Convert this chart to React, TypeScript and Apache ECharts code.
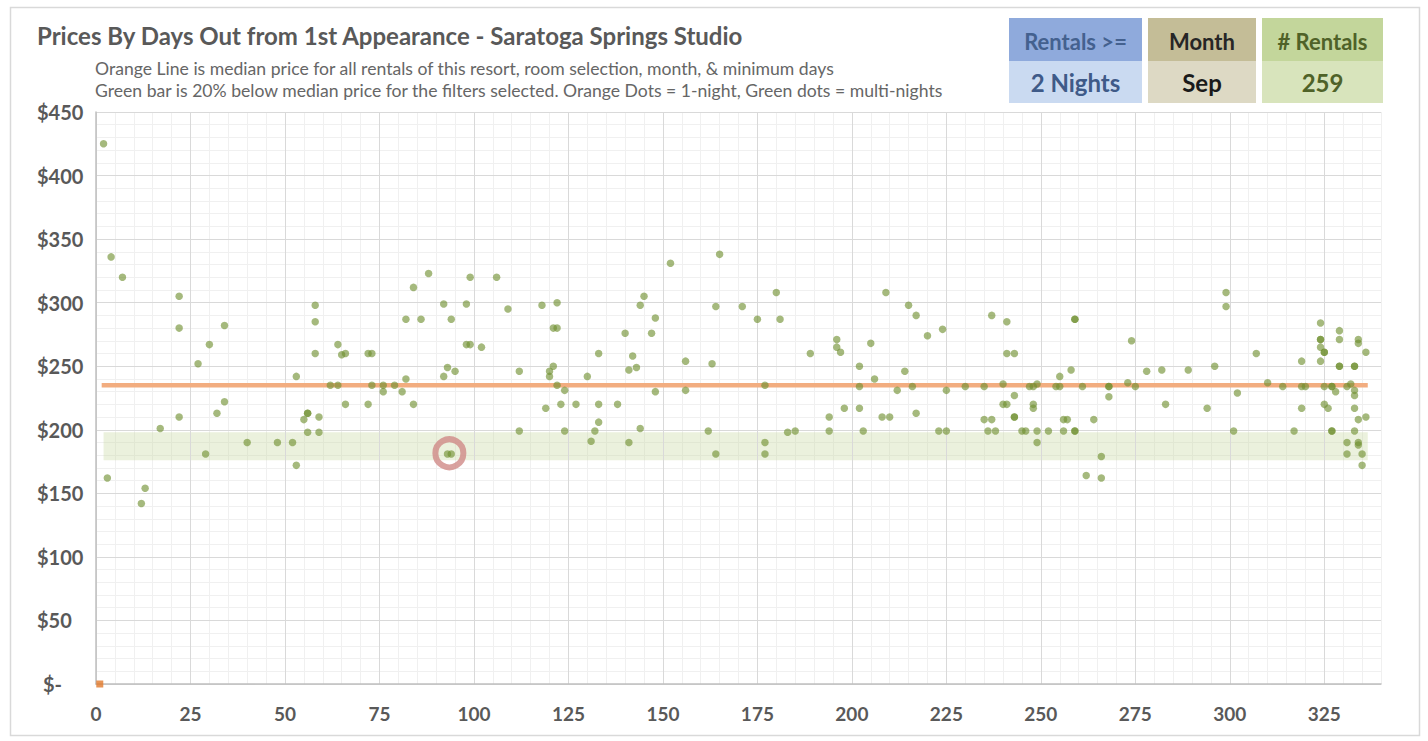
import React, { useEffect, useRef } from "react";
import * as echarts from "echarts";

// ---- data ----
const TITLE = "Prices By Days Out from 1st Appearance - Saratoga Springs Studio";
const SUBTITLE_1 = "Orange Line is median price for all rentals of this resort, room selection, month, & minimum days";
const SUBTITLE_2 = "Green bar is 20% below median price for the filters selected. Orange Dots = 1-night, Green dots = multi-nights";

const BOX_HEADERS = ["Rentals >=", "Month", "# Rentals"];
const BOX_VALUES = ["2 Nights", "Sep", "259"];

const X_TICKS_MAX = 340;
const Y_TICKS_MAX = 450;

const MEDIAN_PRICE = 235;
const RANGE_START_DAY = 1.5;
const RANGE_END_DAY = 336.5;
const BAND_LOW = 176;
const BAND_HIGH = 198;

const HIGHLIGHT: [number, number][] = [[93.5, 181.5]];
const ONE_NIGHT_DOTS: [number, number][] = [[1, 0]];

const GREEN_DOTS_A: [number, number][] = [
  [2, 425], [4, 336], [7, 320], [22, 305], [22, 280], [27, 252], [30, 267], [34, 282], [34, 222], [32, 213],
  [22, 210], [17, 201], [29, 181], [40, 190], [48, 190], [52, 190], [53, 172], [53, 242], [55, 208], [56, 213],
  [56, 213], [56, 198], [59, 210], [59, 198], [58, 298], [58, 285], [58, 260], [62, 235], [64, 235], [64, 267],
  [65, 259], [66, 260], [66, 220], [72, 260], [73, 260], [72, 220], [73, 235], [76, 235], [76, 230], [79, 235],
  [81, 230], [82, 240], [84, 220], [82, 287], [86, 287], [84, 312], [88, 323], [92, 299], [94, 287], [92, 242],
  [93, 249], [95, 246], [93, 181], [94, 181], [3, 162], [12, 142], [13, 154],
];

const GREEN_DOTS_B: [number, number][] = [
  [99, 320], [106, 320], [98, 299], [109, 295], [98, 267], [99, 267], [102, 265], [112, 246], [118, 298], [122, 300],
  [121, 280], [122, 280], [121, 250], [120, 246], [120, 242], [122, 235], [124, 231], [119, 217], [123, 220], [127, 220],
  [112, 199], [124, 199], [130, 242], [133, 260], [133, 220], [138, 220], [133, 206], [132, 199], [131, 191], [140, 276],
  [142, 258], [141, 247], [143, 249], [144, 298], [145, 305], [148, 288], [147, 276], [148, 230], [144, 201], [141, 190],
  [152, 331], [156, 254], [156, 231], [165, 338], [164, 297], [163, 252], [162, 199], [164, 181], [171, 297], [175, 287],
  [180, 308], [181, 287], [177, 235], [177, 190], [177, 181],
];

const GREEN_DOTS_C: [number, number][] = [
  [183, 198], [185, 199], [189, 260], [194, 210], [194, 199], [196, 271], [196, 265], [197, 261], [198, 217], [202, 250],
  [202, 234], [202, 217], [203, 199], [205, 268], [206, 240], [209, 308], [208, 210], [210, 210], [212, 231], [214, 246],
  [215, 298], [217, 290], [216, 234], [217, 213], [220, 274], [224, 279], [223, 199], [225, 199], [225, 231], [230, 234],
  [235, 234], [235, 208], [237, 208], [236, 199], [238, 199], [237, 290], [241, 285], [241, 260], [243, 260], [240, 236],
  [240, 220], [241, 220], [243, 227], [243, 210], [243, 210], [245, 199], [246, 199], [247, 234], [248, 234], [249, 236],
  [248, 220], [248, 217], [249, 199], [249, 190], [252, 199], [254, 234], [255, 234], [255, 242], [256, 208], [257, 208],
  [256, 199], [259, 199], [259, 199], [258, 247], [259, 287], [259, 287], [261, 234], [262, 164], [264, 208], [266, 179],
  [266, 162],
];

const GREEN_DOTS_D: [number, number][] = [
  [268, 234], [268, 234], [268, 226], [273, 237], [275, 234], [274, 270], [278, 246], [282, 247], [283, 220], [289, 247],
  [294, 217], [296, 250], [299, 308], [299, 297], [302, 229], [301, 199], [307, 260], [310, 237], [314, 234], [317, 199],
  [319, 254], [319, 234], [320, 234], [319, 217], [324, 284], [324, 271], [324, 271], [324, 265], [325, 261], [325, 261],
  [324, 254], [325, 234], [325, 220], [326, 217], [327, 234], [327, 234], [328, 230], [327, 199], [327, 199], [329, 278],
  [329, 271], [329, 250], [329, 250], [331, 234], [332, 236], [331, 190], [331, 181], [333, 250], [333, 250], [334, 271],
  [334, 268], [333, 231], [333, 227], [333, 217], [334, 208], [333, 199], [334, 190], [334, 188], [335, 181], [335, 172],
  [336, 261], [336, 210],
];

const FONT = "Lato, 'Noto Sans', sans-serif";
const LABEL_GREY = "#595959";

export default function App() {
  const ref = useRef<HTMLDivElement>(null);

  useEffect(() => {
    document.body.style.margin = "0";
    document.body.style.overflow = "hidden";
    if (!ref.current) return;
    const chart = echarts.init(ref.current, undefined, { renderer: "svg" });

    const greenDots = [...GREEN_DOTS_A, ...GREEN_DOTS_B, ...GREEN_DOTS_C, ...GREEN_DOTS_D];

    const boxX = [1009, 1148, 1262];
    const boxW = [133, 108, 121];
    const headFill = ["#8FAADC", "#C4BD97", "#C3D69B"];
    const valFill = ["#CADAF1", "#DDD9C4", "#D8E4BC"];
    const headColor = ["#44618F", "#262626", "#4F6228"];
    const valColor = ["#3F5A88", "#1A1A1A", "#4F6228"];

    const boxes: any[] = [];
    BOX_HEADERS.forEach((h, i) => {
      boxes.push({
        type: "rect",
        shape: { x: boxX[i], y: 18, width: boxW[i], height: 43 },
        style: { fill: headFill[i] },
      });
      boxes.push({
        type: "rect",
        shape: { x: boxX[i], y: 61, width: boxW[i], height: 42 },
        style: { fill: valFill[i] },
      });
      boxes.push({
        type: "text",
        x: boxX[i] + boxW[i] / 2,
        y: 41,
        style: {
          text: h,
          fill: headColor[i],
          font: `bold 22px ${FONT}`,
          align: "center",
          verticalAlign: "middle",
        },
      });
      boxes.push({
        type: "text",
        x: boxX[i] + boxW[i] / 2,
        y: 82,
        style: {
          text: BOX_VALUES[i],
          fill: valColor[i],
          font: `bold 24px ${FONT}`,
          align: "center",
          verticalAlign: "middle",
        },
      });
    });

    const option: any = {
      animation: false,
      backgroundColor: "#ffffff",
      grid: { left: 96, right: 47, top: 112, bottom: 57, containLabel: false },
      xAxis: [
        {
          type: "value",
          min: 0,
          max: X_TICKS_MAX,
          interval: 25,
          z: 2,
          axisLine: { show: true, lineStyle: { color: "#BFBFBF", width: 1.5 } },
          axisTick: { show: false },
          axisLabel: {
            showMaxLabel: false,
            margin: 20,
            color: LABEL_GREY,
            fontFamily: FONT,
            fontWeight: "bold",
            fontSize: 19,
          },
          splitLine: { show: true, showMaxLine: false, lineStyle: { color: "#D9D9D9", width: 1 } },
        },
        {
          type: "value",
          min: 0,
          max: X_TICKS_MAX,
          interval: 5,
          z: 1,
          position: "bottom",
          axisLine: { show: false },
          axisTick: { show: false },
          axisLabel: { show: false },
          splitLine: { show: true, lineStyle: { color: "#F0F0F0", width: 1 } },
        },
      ],
      yAxis: [
        {
          type: "value",
          min: 0,
          max: Y_TICKS_MAX,
          interval: 50,
          z: 2,
          axisLine: { show: true, lineStyle: { color: "#BFBFBF", width: 1.5 } },
          axisTick: { show: false },
          axisLabel: {
            align: "left",
            margin: 59,
            color: LABEL_GREY,
            fontFamily: FONT,
            fontWeight: "bold",
            fontSize: 20,
            formatter: (v: number) => (v === 0 ? "{z|$-}" : "$" + v),
            rich: {
              z: {
                padding: [0, 0, 0, 6],
                color: LABEL_GREY,
                fontFamily: FONT,
                fontWeight: "bold",
                fontSize: 20,
              },
            },
          },
          splitLine: { show: true, lineStyle: { color: "#D9D9D9", width: 1 } },
        },
        {
          type: "value",
          min: 0,
          max: Y_TICKS_MAX,
          interval: 10,
          z: 1,
          position: "left",
          axisLine: { show: false },
          axisTick: { show: false },
          axisLabel: { show: false },
          splitLine: { show: true, lineStyle: { color: "#F0F0F0", width: 1 } },
        },
      ],
      graphic: [
        {
          type: "rect",
          shape: { x: 10.5, y: 7.5, width: 1409, height: 728 },
          style: { fill: "none", stroke: "#D9D9D9", lineWidth: 1.5 },
          z: -10,
        },
        {
          type: "text",
          x: 37,
          y: 35,
          style: {
            text: TITLE,
            fill: LABEL_GREY,
            font: `bold 24px ${FONT}`,
            align: "left",
            verticalAlign: "middle",
          },
        },
        {
          type: "text",
          x: 95,
          y: 68,
          style: {
            text: SUBTITLE_1,
            fill: "#666666",
            font: `17.6px ${FONT}`,
            align: "left",
            verticalAlign: "middle",
          },
        },
        {
          type: "text",
          x: 95,
          y: 90,
          style: {
            text: SUBTITLE_2,
            fill: "#666666",
            font: `17.6px ${FONT}`,
            align: "left",
            verticalAlign: "middle",
          },
        },
        ...boxes,
      ],
      series: [
        {
          name: "Median",
          type: "line",
          xAxisIndex: 0,
          yAxisIndex: 0,
          z: 4,
          symbol: "none",
          silent: true,
          data: [
            [RANGE_START_DAY, MEDIAN_PRICE],
            [RANGE_END_DAY, MEDIAN_PRICE],
          ],
          lineStyle: { color: "#F2AD80", width: 4.5 },
          markArea: {
            silent: true,
            itemStyle: { color: "rgba(196,215,155,0.34)" },
            data: [
              [
                { coord: [RANGE_START_DAY + 0.5, BAND_HIGH] },
                { coord: [RANGE_END_DAY, BAND_LOW] },
              ],
            ],
          },
        },
        {
          name: "Multi-night",
          type: "scatter",
          xAxisIndex: 0,
          yAxisIndex: 0,
          z: 5,
          symbol: "circle",
          symbolSize: 7.5,
          itemStyle: { color: "rgba(110,142,46,0.78)" },
          data: greenDots,
        },
        {
          name: "1-night",
          type: "scatter",
          xAxisIndex: 0,
          yAxisIndex: 0,
          z: 6,
          symbol: "rect",
          symbolSize: 7,
          itemStyle: { color: "#E2792B" },
          data: ONE_NIGHT_DOTS,
        },
        {
          name: "Highlight",
          type: "scatter",
          xAxisIndex: 0,
          yAxisIndex: 0,
          z: 7,
          symbol: "circle",
          symbolSize: 28,
          itemStyle: { color: "rgba(0,0,0,0)", borderColor: "#D08A87", borderWidth: 6 },
          data: HIGHLIGHT,
        },
      ],
    };

    chart.setOption(option);
    return () => chart.dispose();
  }, []);

  return <div ref={ref} style={{ width: 1428, height: 741 }} />;
}
